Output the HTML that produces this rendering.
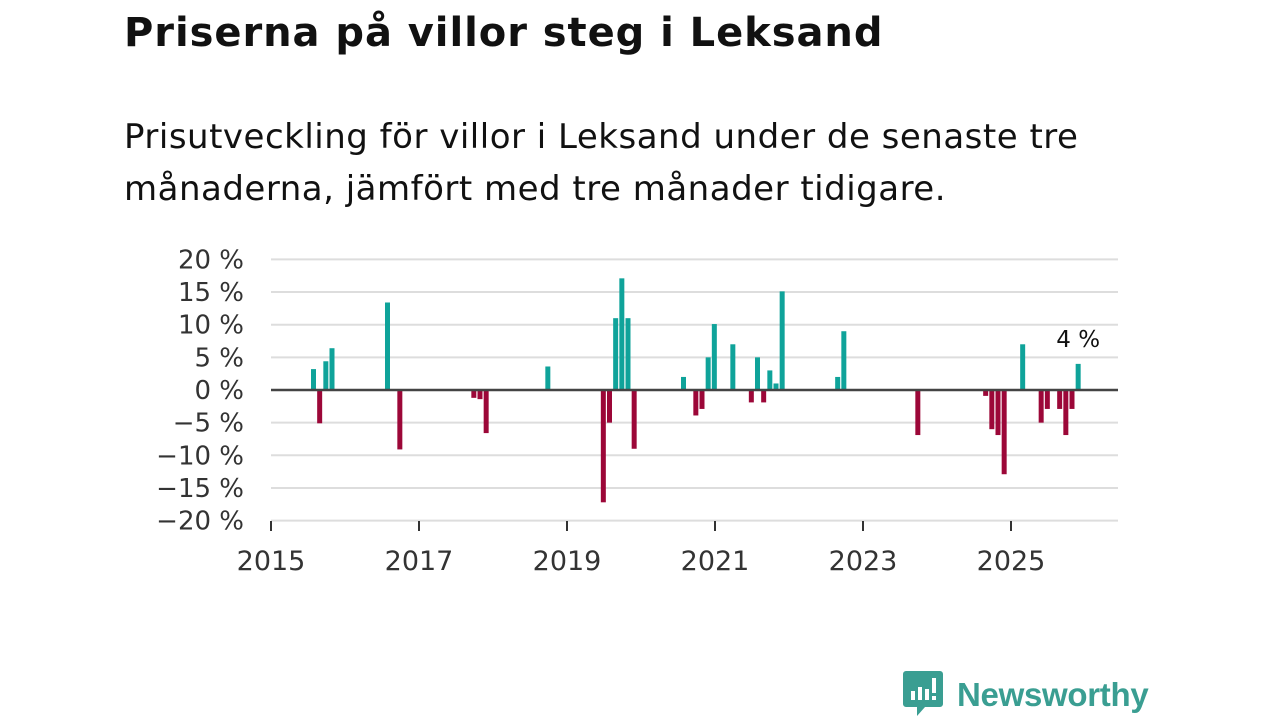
<!DOCTYPE html>
<html><head><meta charset="utf-8"><style>
body{margin:0;width:1280px;height:720px;background:#fff;font-family:"Liberation Sans","DejaVu Sans",sans-serif;position:relative;overflow:hidden;color:#111}
h1{position:absolute;left:124px;top:10px;margin:0;font-size:40px;font-weight:bold;color:#111;font-family:"DejaVu Sans","Liberation Sans",sans-serif;letter-spacing:0.95px}
.sub{position:absolute;left:124px;top:111px;margin:0;font-size:34px;line-height:52px;color:#111;font-family:"DejaVu Sans","Liberation Sans",sans-serif;letter-spacing:0.5px}
svg{position:absolute;left:0;top:0}
.logo{position:absolute;left:903px;top:671px;display:flex;align-items:center}
.logo span{font-size:33px;font-weight:bold;color:#3a9e92;margin-left:14px;letter-spacing:-0.3px}
</style></head><body>
<h1>Priserna på villor steg i Leksand</h1>
<p class="sub">Prisutveckling för villor i Leksand under de senaste tre<br>månaderna, jämfört med tre månader tidigare.</p>
<svg id="chart" width="1280" height="720"></svg>
<div class="logo">
<svg width="40" height="48" style="position:static"><path d="M3 0h34a3 3 0 0 1 3 3v30a3 3 0 0 1-3 3H22l-8 9v-9H3a3 3 0 0 1-3-3V3a3 3 0 0 1 3-3z" fill="#3a9e92"/><rect x="8" y="20" width="4" height="9" fill="#fff"/><rect x="15" y="16" width="4" height="13" fill="#fff"/><rect x="22" y="18" width="4" height="11" fill="#fff"/><rect x="29" y="7" width="4" height="15" fill="#fff"/><rect x="29" y="25" width="4" height="4" fill="#fff"/></svg>
<span>Newsworthy</span></div>
<script>
const months=["2015-07","2015-08","2015-09","2015-10","2016-07","2016-09","2017-09","2017-10","2017-11","2018-09","2019-06","2019-07","2019-08","2019-09","2019-10","2019-11","2020-07","2020-09","2020-10","2020-11","2020-12","2021-03","2021-06","2021-07","2021-08","2021-09","2021-10","2021-11","2022-08","2022-09","2023-09","2024-08","2024-09","2024-10","2024-11","2025-02","2025-05","2025-06","2025-08","2025-09","2025-10","2025-11"];
const values=[3.2,-5.1,4.4,6.4,13.4,-9.1,-1.2,-1.4,-6.6,3.6,-17.2,-5,11,17.1,11,-9,2,-3.9,-2.9,5,10.1,7,-1.9,5,-1.9,3,1,15.1,2,9,-6.9,-0.9,-6,-6.9,-12.9,7,-5,-2.9,-2.9,-6.9,-2.9,4];
const yTicks=[20,15,10,5,0,-5,-10,-15,-20];
const xTicks=[2015,2017,2019,2021,2023,2025];
const NS="http://www.w3.org/2000/svg",svg=document.getElementById('chart');
const x0=271,pxYear=74,y0=390,pxPct=6.53,right=1118;
function xScale(yr,mo){return x0+(yr-2015+mo/12)*pxYear;}
function yScale(v){return y0-v*pxPct;}
function mk(t,a){const e=document.createElementNS(NS,t);for(const k in a)e.setAttribute(k,a[k]);svg.appendChild(e);return e;}
yTicks.forEach(v=>{
 if(v!==0){const g=mk('line',{x1:x0,x2:right,y1:yScale(v),y2:yScale(v),stroke:'#ddd','stroke-width':2});
 
 }
 const t=mk('text',{x:244,y:yScale(v)+9,'text-anchor':'end','font-size':26,fill:'#333','font-family':'DejaVu Sans, sans-serif'});
 t.textContent=(v<0?'\u2212'+(-v):v)+' %';
 
 
});
xTicks.forEach(yr=>{
 const x=xScale(yr,0);
 const l=mk('line',{x1:x,x2:x,y1:521,y2:531,stroke:'#333','stroke-width':2});
 
 
 const t=mk('text',{x:x,y:570,'text-anchor':'middle','font-size':27,fill:'#333','font-family':'DejaVu Sans, sans-serif'});
 t.textContent=yr;
 
 
});
months.forEach((m,i)=>{
 const [yr,mo]=m.split('-').map(Number);
 const v=values[i],x=xScale(yr,mo-1)+3;
 const r=mk('rect',{x:x,width:5,y:v>=0?yScale(v):y0,height:Math.abs(v)*pxPct,fill:v>=0?'#0fa39a':'#9c0738'});
 
 
 if(i===months.length-1){
  const t=mk('text',{x:x+2.5,y:yScale(v)-17,'text-anchor':'middle','font-size':23,fill:'#111','font-family':'DejaVu Sans, sans-serif'});
  t.textContent=Math.round(v)+' %';
  
  
 }
});
const z=mk('line',{x1:x0,x2:right,y1:y0,y2:y0,stroke:'#444','stroke-width':2.5});


</script>
</body></html>
